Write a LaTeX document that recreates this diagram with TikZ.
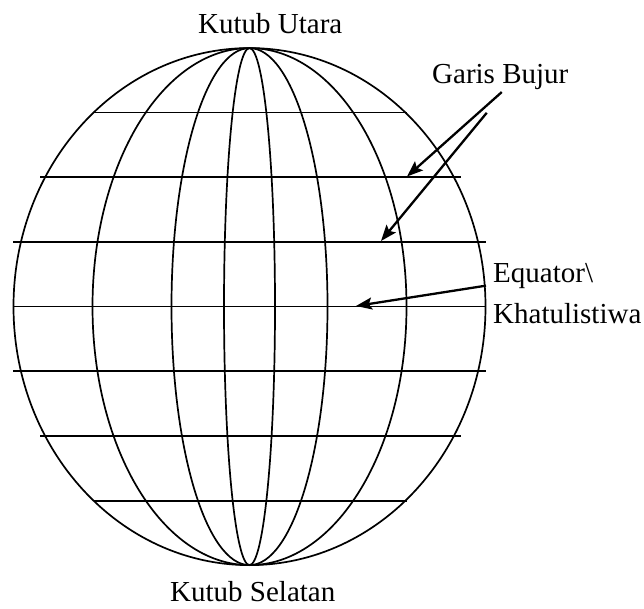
\documentclass[tikz,border=0pt]{standalone}
\usepackage{fontspec}
\setmainfont{Liberation Serif}
\usetikzlibrary{arrows.meta}

\begin{document}
\begin{tikzpicture}[x=1pt,y=-1pt,
  globeline/.style={line width=1.7pt},
  pointer/.style={line width=2.3pt,-{Stealth[length=16pt,width=12pt,inset=3pt]}},
  lbl/.style={font=\fontsize{29}{41}\selectfont,inner sep=0pt}]
  \useasboundingbox (0,0) rectangle (644,608);
  % garis bujur (meridians)
  \foreach \rx in {236,157,78,25.5}
    \draw[globeline] (249.5,306.6) ellipse [x radius=\rx, y radius=258.5];
  % garis lintang
  \foreach \y/\l/\r in {112.5/94/407, 177.2/40/461, 241.9/13/486, 306.6/13/486,
                        371.3/13/486, 436/40/461, 500.7/94/407}
    \draw[globeline] (\l,\y) -- (\r,\y);
  % labels
  \node[lbl,anchor=base west] (utara) at (198,33) {Kutub Utara};
  \node[lbl,anchor=base west] (selatan) at (170,601) {Kutub Selatan};
  \node[lbl,anchor=base west] (bujur) at (432,83) {Garis Bujur};
  \node[lbl,anchor=north west,align=left] (equator) at (493,263.5)
    {Equator\textbackslash\\Khatulistiwa};
  % arrows
  \coordinate (tipA) at (407,176.5);
  \coordinate (tipB) at (381,241);
  \coordinate (tipC) at (356,306);
  \draw[pointer] ([xshift=1.5pt,yshift=-2.7pt]bujur.south) -- (tipA);
  \draw[pointer] ([xshift=-13.5pt,yshift=-23.4pt]bujur.south) -- (tipB);
  \draw[pointer] ([xshift=-7pt,yshift=8.25pt]equator.west) -- (tipC);
\end{tikzpicture}
\end{document}
